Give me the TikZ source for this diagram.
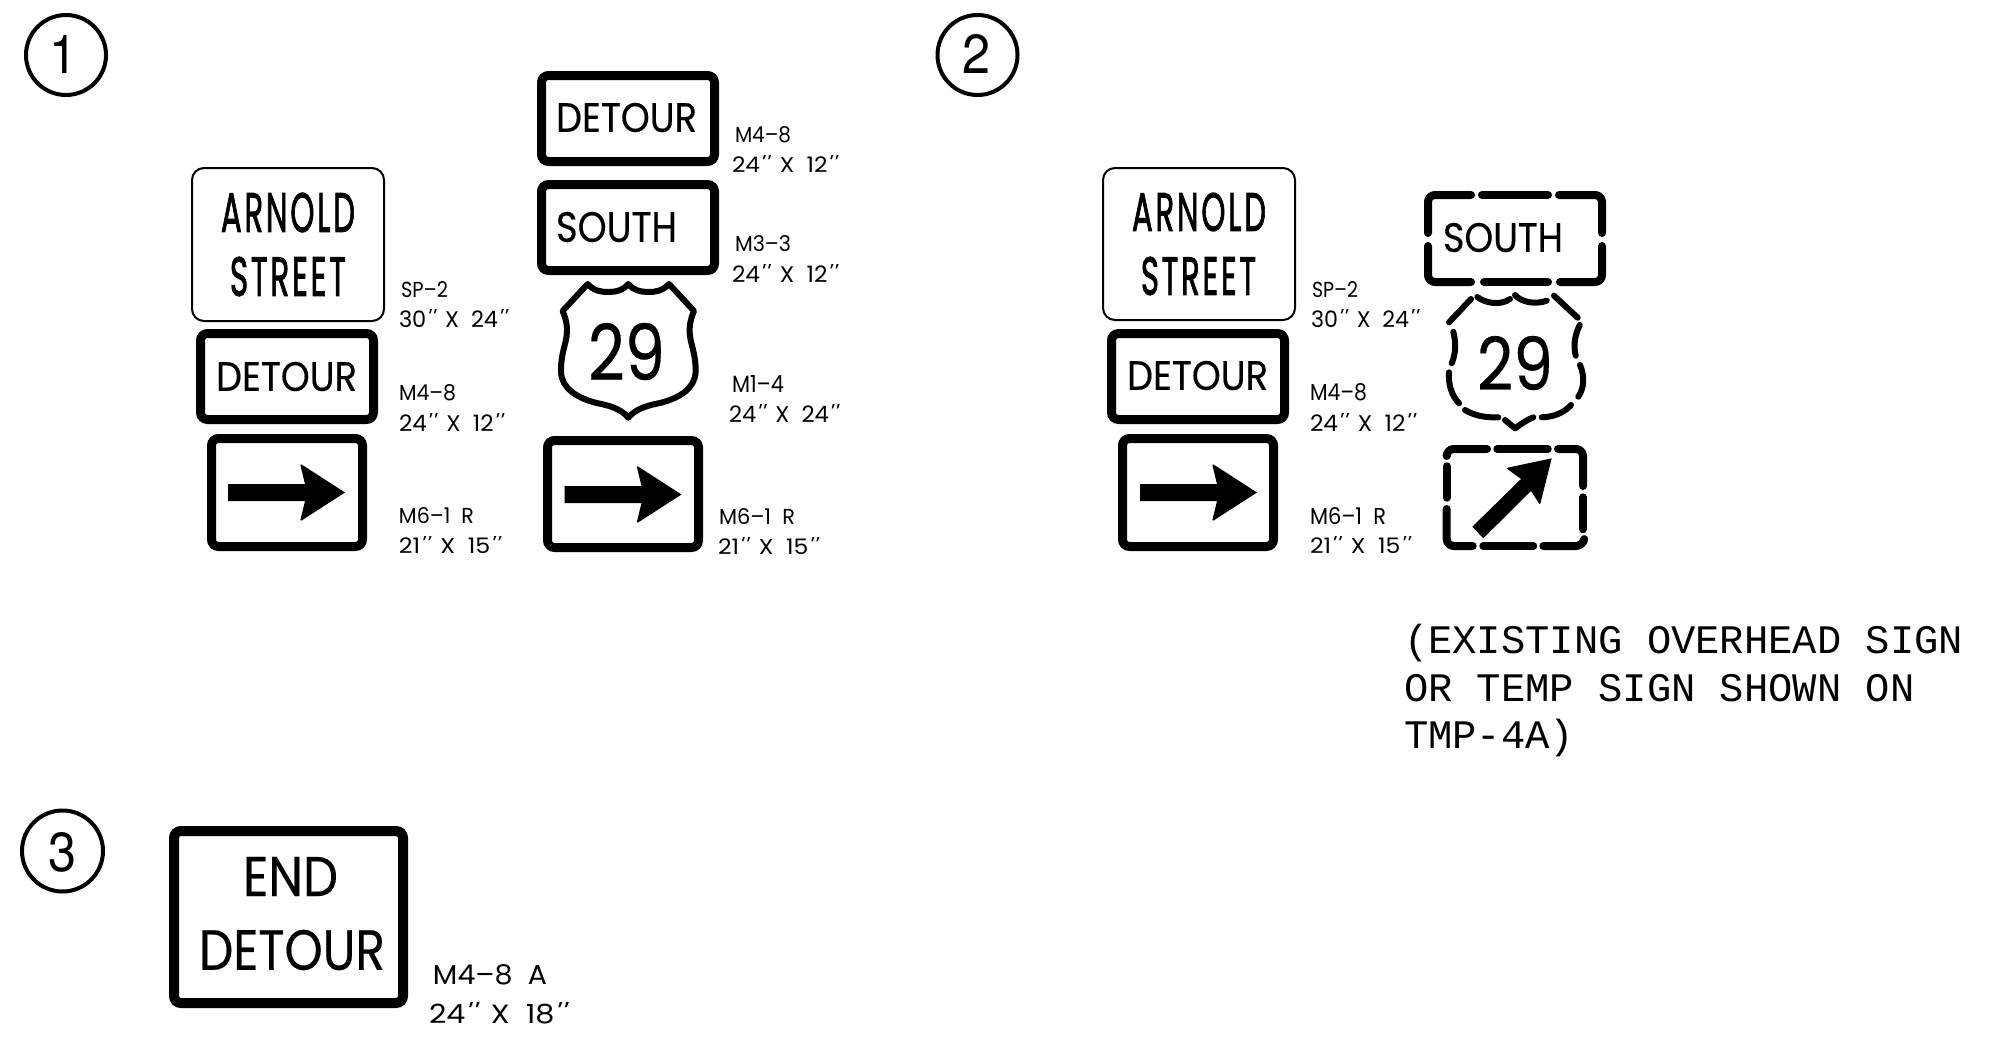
\documentclass[tikz,border=0pt]{standalone}
\usepackage{fontspec}
\usepackage{graphicx}
\setmainfont{Poppins}
\newfontfamily\tickfont[FakeSlant=0.3]{Poppins}
\newfontfamily\spacedfont[LetterSpace=9,FakeBold=2]{Poppins}
\newfontfamily\signfont[FakeBold=0.4]{Poppins}
\newfontfamily\digitfont{TeX Gyre Heros}
\newfontfamily\notefont{Liberation Mono}
\newcommand{\pp}{\kern-0.1em{\tickfont'\kern0.06em'}\kern0.3em}
% \fitnode[extra font]{name}{x0}{y0}{x1}{y1}{text}
\newcommand{\fitnode}[7][]{%
  \pgfmathsetmacro\fitw{#5-#3}\pgfmathsetmacro\fith{#6-#4}%
  \node[txt] (#2) at ({(#3+#5)/2},{(#4+#6)/2}) {\resizebox{\fitw pt}{\fith pt}{#1#7}};}
\newcommand{\rightarrowshape}[2]{%
  \begin{scope}[shift={(#1,#2)}]
    \fill (228,484) -- (305,484) [rounded corners=2pt] -- (300,463.5) [sharp corners] -- (345,492.5) [rounded corners=2pt] -- (300,521.5) [sharp corners] -- (305,501) -- (228,501) -- cycle;
  \end{scope}}
\tikzset{
  txt/.style={inner sep=0pt,outer sep=0pt,anchor=center},
  notetxt/.style={inner sep=0pt,outer sep=0pt,anchor=base west,font=\notefont\fontsize{40.5}{44}\selectfont},
  thick sign/.style={draw=black,line width=9pt,rounded corners=7pt},
  thin sign/.style={draw=black,line width=2pt,rounded corners=12pt},
  ring/.style={draw=black,line width=4pt},
  shieldline/.style={draw=black,line width=6pt,line join=round,line cap=round},
  dashpart/.style={draw=black,line width=8pt,line cap=round,line join=round,rounded corners=7pt},
  dashcurve/.style={draw=black,line width=6pt,line cap=round,line join=round}
}
\begin{document}
\begin{tikzpicture}[x=1pt,y=-1pt]
\useasboundingbox (0,0) rectangle (1993,1036);
\fill[white] (0,0) rectangle (1993,1036);

% circled numbers
\draw[ring] (66,55) circle (40);
\fitnode[\digitfont]{numa}{50}{35}{78}{73}{1}
\draw[ring] (977.5,55) circle (40);
\fitnode[\digitfont]{numb}{962}{34}{990}{73}{2}
\draw[ring] (62.5,851) circle (40.5);
\fitnode[\digitfont]{numc}{49}{833}{77}{872}{3}

% ---------- group 1, left stack
\draw[thin sign] (192,168) rectangle (384,321);
\fitnode[\spacedfont]{arnolda}{221}{193}{355}{232}{ARNOLD}
\fitnode[\spacedfont]{streeta}{230}{257}{346}{296}{STREET}
\draw[thick sign] (200.5,333.5) rectangle (373.5,419.5);
\fitnode[\signfont]{detoura}{216}{362}{357}{391}{DETOUR}
\draw[thick sign] (211.5,438.5) rectangle (362.5,546.5);
\rightarrowshape{0}{0}
\fitnode{lsp}{401}{282}{448}{298}{SP–2}
\fitnode{lspd}{399}{310}{511}{328}{30\pp~X~~24\pp}
\fitnode{lma}{399}{385}{456}{401}{M4–8}
\fitnode{lmad}{399}{413}{507}{431}{24\pp~X~~12\pp}
\fitnode{lmb}{399}{508}{474}{524}{M6–1~~R}
\fitnode{lmbd}{399}{537}{504}{554}{21\pp~X~~15\pp}

% ---------- group 1, right stack
\draw[thick sign] (541.5,75.5) rectangle (714.5,161.5);
\fitnode[\signfont]{detourb}{556}{103}{697}{132}{DETOUR}
\draw[thick sign] (541.5,184.5) rectangle (714.5,270.5);
\fitnode[\signfont]{southb}{556}{212}{677}{242}{SOUTH}
\draw[shieldline]
  (628.3,417.7) .. controls (620.6,408) and (606.6,405) .. (596.6,403)
  .. controls (576.6,398) and (561.6,388) .. (561,372)
  .. controls (560.6,355) and (565.6,345) .. (566.6,336)
  .. controls (567.6,328) and (566.6,320) .. (562.6,311)
  -- (587.7,284)
  .. controls (594,291) and (601,292) .. (608.3,292)
  .. controls (616,292) and (624,290) .. (628.3,284)
  .. controls (632.6,290) and (640.6,292) .. (648.3,292)
  .. controls (655.6,292) and (662.6,291) .. (669,284)
  -- (694,311)
  .. controls (690,320) and (689,328) .. (690,336)
  .. controls (691,345) and (696,355) .. (695.6,372)
  .. controls (695,388) and (680,398) .. (660,403)
  .. controls (650,405) and (636,408) .. (628.3,417.7) -- cycle;
\fitnode[\signfont]{shieldb}{588}{323}{665}{380}{29}
\draw[thick sign] (547.5,440.5) rectangle (698.5,547.5);
\rightarrowshape{336.5}{2}
\fitnode{rma}{735}{127}{791}{143}{M4–8}
\fitnode{rmad}{732}{155}{841}{172}{24\pp~X~~12\pp}
\fitnode{rmb}{735}{236}{791}{252}{M3–3}
\fitnode{rmbd}{732}{264}{841}{282}{24\pp~X~~12\pp}
\fitnode{rmc}{732}{375}{784}{392}{M1–4}
\fitnode{rmcd}{729}{404}{842}{422}{24\pp~X~~24\pp}
\fitnode{rmd}{719}{509}{795}{525}{M6–1~~R}
\fitnode{rmdd}{718}{538}{822}{555}{21\pp~X~~15\pp}

% ---------- group 2
\draw[thin sign] (1103,168) rectangle (1295,320);
\fitnode[\spacedfont]{arnoldc}{1132}{193}{1266}{231}{ARNOLD}
\fitnode[\spacedfont]{streetc}{1141}{257}{1256}{295}{STREET}
\draw[thick sign] (1111.5,333.5) rectangle (1284.5,419.5);
\fitnode[\signfont]{detourc}{1127}{361}{1268}{390}{DETOUR}
\draw[thick sign] (1122.5,438.5) rectangle (1273.5,546.5);
\rightarrowshape{912}{0}
\fitnode{csp}{1312}{282}{1358}{298}{SP–2}
\fitnode{cspd}{1311}{310}{1422}{328}{30\pp~X~~24\pp}
\fitnode{cma}{1310}{384}{1367}{401}{M4–8}
\fitnode{cmad}{1310}{413}{1419}{431}{24\pp~X~~12\pp}
\fitnode{cmb}{1310}{508}{1386}{525}{M6–1~~R}
\fitnode{cmbd}{1310}{537}{1414}{554}{21\pp~X~~15\pp}

% dashed SOUTH sign
\draw[dashpart] (1428,233) -- (1428,195) -- (1471,195);
\draw[dashpart] (1482,195) -- (1548,195);
\draw[dashpart] (1559,195) -- (1602,195) -- (1602,233);
\draw[dashpart] (1428,246) -- (1428,282) -- (1471,282);
\draw[dashpart] (1484,282) -- (1548,282);
\draw[dashpart] (1560,282) -- (1602,282) -- (1602,246);
\fitnode[\signfont]{southd}{1443}{223}{1563}{252}{SOUTH}

% dashed shield
\draw[dashcurve] (1449,322.3) -- (1471,299);
\draw[dashcurve] (1477.3,297) .. controls (1485,303) and (1500,306) .. (1510,299);
\draw[dashcurve] (1515,295) .. controls (1521,302) and (1535,305) .. (1546.7,300.7);
\draw[dashcurve] (1554,295.7) -- (1577.7,317.7);
\draw[dashcurve] (1579.7,325) .. controls (1575,335) and (1573,345) .. (1575.7,355.7);
\draw[dashcurve] (1580,365) .. controls (1585,377) and (1584,388) .. (1578.3,396.7);
\draw[dashcurve] (1571,405) .. controls (1564,413) and (1553,417) .. (1541.7,417.3);
\draw[dashcurve] (1533.3,417.3) .. controls (1526,420) and (1520,425) .. (1515,428.3) -- (1505,420);
\draw[dashcurve] (1498.3,417.3) .. controls (1485,418) and (1473,415) .. (1465,410);
\draw[dashcurve] (1459,403.3) .. controls (1452,396) and (1448,385) .. (1449,372.3);
\draw[dashcurve] (1451.7,363.3) .. controls (1456,353) and (1456,343) .. (1453.3,331.7);
\fitnode[\signfont]{shieldd}{1477}{336}{1553}{390}{29}

% dashed diagonal-arrow sign
\draw[dashpart] (1446.7,455) -- (1446.7,449) -- (1487,449);
\draw[dashpart] (1497.3,449) -- (1547.7,449);
\draw[dashpart] (1558,449) -- (1583,449) -- (1583,486);
\draw[dashpart] (1583,497.3) -- (1583,529.3);
\draw[dashpart] (1584,540) -- (1583,546) -- (1543.3,546);
\draw[dashpart] (1483.3,546) -- (1533.3,546);
\draw[dashpart] (1472.7,546) -- (1446.7,546) -- (1446.7,509);
\draw[dashpart] (1446.7,466.3) -- (1446.7,497.7);
\fill (1472.3,526.7) -- (1521,479) [rounded corners=2pt] -- (1506,468) [sharp corners] -- (1551.7,458.3) [rounded corners=2pt] -- (1540,505) [sharp corners] -- (1531,491) -- (1483.3,538.3) -- cycle;

% note
\node[notetxt] (notea) at (1404,653) {(EXISTING OVERHEAD SIGN};
\node[notetxt] (noteb) at (1404,701) {OR TEMP SIGN SHOWN ON};
\node[notetxt] (notec) at (1404,748) {TMP-4A)};

% ---------- group 3
\draw[thick sign,line width=10pt] (174,831) rectangle (403,1003);
\fitnode[\signfont]{endd}{243}{857}{338}{896}{END}
\fitnode[\signfont]{detourd}{199}{930}{385}{970}{DETOUR}
\fitnode{lastm}{433}{965}{547}{985}{M4–8~~A}
\fitnode{lastd}{429}{1003}{572}{1024}{24\pp~X~~18\pp}
\end{tikzpicture}
\end{document}
